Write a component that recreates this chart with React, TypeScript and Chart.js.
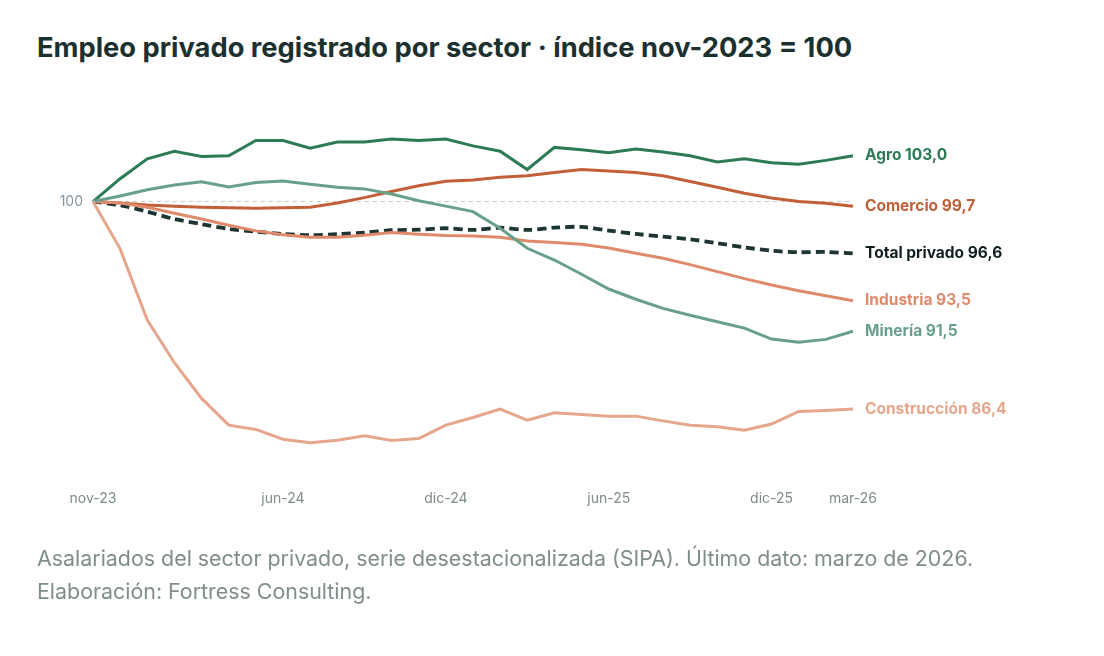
import React, { useEffect, useRef } from "react";
import { Chart, registerables } from "chart.js";

Chart.register(...registerables);

// Monthly index, nov-2023 = 100
const months = [
  "nov-23", "dic-23", "ene-24", "feb-24", "mar-24", "abr-24", "may-24", "jun-24",
  "jul-24", "ago-24", "sep-24", "oct-24", "nov-24", "dic-24", "ene-25", "feb-25",
  "mar-25", "abr-25", "may-25", "jun-25", "jul-25", "ago-25", "sep-25", "oct-25",
  "nov-25", "dic-25", "ene-26", "feb-26", "mar-26",
];

const shownTicks = ["nov-23", "jun-24", "dic-24", "jun-25", "dic-25", "mar-26"];

const agro = [
  100, 101.5, 102.8, 103.3, 102.95, 103.0, 104.0, 104.0, 103.5, 103.9, 103.9, 104.1, 104.0, 104.1,
  103.65, 103.3, 102.1, 103.55, 103.4, 103.2, 103.45, 103.25, 103.0, 102.6, 102.8, 102.55, 102.45,
  102.7, 103.0,
];

const comercio = [
  100, 99.9, 99.78, 99.7, 99.63, 99.59, 99.57, 99.59, 99.63, 99.9, 100.26, 100.66, 101.03, 101.33,
  101.42, 101.6, 101.69, 101.9, 102.1, 102.01, 101.9, 101.69, 101.31, 100.94, 100.55, 100.24,
  100.0, 99.89, 99.7,
];

const totalPrivado = [
  100, 99.76, 99.34, 98.86, 98.52, 98.21, 98.03, 97.88, 97.8, 97.86, 97.97, 98.12, 98.16, 98.25,
  98.14, 98.29, 98.14, 98.29, 98.34, 98.1, 97.88, 97.7, 97.53, 97.27, 97.0, 96.78, 96.68, 96.7,
  96.6,
];

const industria = [
  100, 99.9, 99.63, 99.24, 98.86, 98.45, 98.08, 97.83, 97.66, 97.66, 97.8, 97.97, 97.86, 97.78,
  97.75, 97.66, 97.42, 97.31, 97.2, 96.96, 96.61, 96.29, 95.87, 95.41, 94.95, 94.53, 94.16, 93.83,
  93.5,
];

const mineria = [
  100, 100.37, 100.77, 101.08, 101.29, 100.96, 101.25, 101.34, 101.14, 100.94, 100.83, 100.5,
  100.05, 99.7, 99.34, 98.25, 96.94, 96.17, 95.24, 94.27, 93.6, 93.0, 92.55, 92.13, 91.71, 90.99,
  90.79, 90.97, 91.5,
];

const construccion = [
  100, 96.9, 92.24, 89.44, 87.1, 85.35, 85.07, 84.43, 84.19, 84.36, 84.65, 84.34, 84.47, 85.35,
  85.85, 86.4, 85.68, 86.16, 86.05, 85.94, 85.94, 85.63, 85.35, 85.24, 85.02, 85.42, 86.25, 86.31,
  86.4,
];

const FONT = "Inter, 'Noto Sans', sans-serif";

const fmt = (v: number) => v.toFixed(1).replace(".", ",");

// Writes "Sector value" to the right of each line's last point
const endLabels = {
  id: "endLabels",
  afterDatasetsDraw(chart: any) {
    const { ctx } = chart;
    ctx.save();
    ctx.font = `700 15.5px ${FONT}`;
    ctx.textBaseline = "middle";
    ctx.textAlign = "left";
    chart.data.datasets.forEach((ds: any, i: number) => {
      const meta = chart.getDatasetMeta(i);
      const pt = meta.data[meta.data.length - 1];
      if (!pt) return;
      const v = ds.data[ds.data.length - 1];
      ctx.fillStyle = ds.labelColor || ds.borderColor;
      ctx.fillText(`${ds.label} ${fmt(v)}`, pt.x + 12, pt.y);
    });
    ctx.restore();
  },
};

export default function App() {
  const ref = useRef<HTMLCanvasElement | null>(null);

  useEffect(() => {
    if (!ref.current) return;
    const mk = (label: string, data: number[], color: string, extra: any = {}) => ({
      label,
      data,
      borderColor: color,
      backgroundColor: color,
      borderWidth: 3,
      pointRadius: 0,
      pointHoverRadius: 0,
      tension: 0,
      ...extra,
    });

    const chart = new Chart(ref.current, {
      type: "line",
      data: {
        labels: months,
        datasets: [
          mk("Construcción", construccion, "#e6a68b"),
          mk("Minería", mineria, "#68a08a"),
          mk("Industria", industria, "#df8a6d"),
          mk("Comercio", comercio, "#c25f38"),
          mk("Agro", agro, "#2c7b55"),
          mk("Total privado", totalPrivado, "#1d3533", {
            borderDash: [9, 5],
            borderWidth: 3.8,
            tension: 0.3,
            labelColor: "#0f1f1f",
          }),
        ],
      },
      options: {
        animation: false,
        responsive: false,
        maintainAspectRatio: false,
        events: [],
        layout: { padding: { left: 0, top: 110, right: 251, bottom: 145 } },
        plugins: {
          legend: { display: false },
          tooltip: { enabled: false },
          title: { display: false },
        },
        scales: {
          x: {
            type: "category",
            offset: false,
            grid: { display: false, drawTicks: false },
            border: { display: false },
            afterFit: (s: any) => {
              s.height = 50;
            },
            ticks: {
              autoSkip: false,
              maxRotation: 0,
              padding: 29,
              color: "#7d8c8a",
              font: { family: FONT, size: 14 },
              callback: (_v: any, i: number) => (shownTicks.includes(months[i]) ? months[i] : ""),
            },
          },
          y: {
            min: 83,
            max: 106,
            afterFit: (s: any) => {
              s.width = 93;
            },
            afterBuildTicks: (s: any) => {
              s.ticks = [{ value: 100 }];
            },
            grid: {
              drawTicks: false,
              color: "#c3cbc9",
              lineWidth: 1,
            },
            border: { display: false, dash: [4, 4] },
            ticks: {
              padding: 10,
              color: "#8496a0",
              font: { family: FONT, size: 14 },
              callback: (v: any) => String(v),
            },
          },
        },
      },
      plugins: [endLabels],
    });
    return () => chart.destroy();
  }, []);

  return (
    <div style={{ position: "absolute", left: 0, top: 0, width: 1104, height: 656, background: "#fff" }}>
      <div
        style={{
          position: "absolute",
          left: 37,
          top: 31,
          fontFamily: FONT,
          fontWeight: 700,
          fontSize: 27.3,
          color: "#1b302f",
          whiteSpace: "nowrap",
        }}
      >
        Empleo privado registrado por sector · índice nov-2023 = 100
      </div>
      <canvas ref={ref} width={1104} height={656} style={{ position: "absolute", left: 0, top: 0 }} />
      <div
        style={{
          position: "absolute",
          left: 37,
          top: 542,
          fontFamily: FONT,
          fontSize: 21.4,
          lineHeight: "33px",
          color: "#7f8e8b",
          whiteSpace: "nowrap",
        }}
      >
        Asalariados del sector privado, serie desestacionalizada (SIPA). Último dato: marzo de 2026.
        <br />
        Elaboración: Fortress Consulting.
      </div>
    </div>
  );
}
